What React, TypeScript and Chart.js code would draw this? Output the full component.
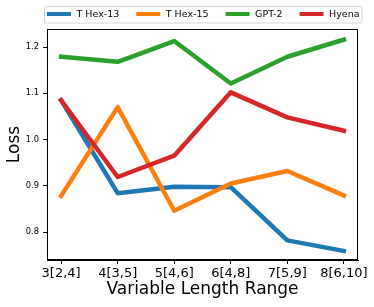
import React, { useEffect, useRef } from "react";
import { Chart, registerables } from "chart.js";

Chart.register(...registerables);

const categories = ["3[2,4]", "4[3,5]", "5[4,6]", "6[4,8]", "7[5,9]", "8[6,10]"];
const tHex13 = [1.085, 0.884, 0.898, 0.897, 0.782, 0.759];
const tHex15 = [0.878, 1.07, 0.846, 0.905, 0.932, 0.879];
const gpt2 = [1.179, 1.168, 1.213, 1.121, 1.179, 1.216];
const hyena = [1.085, 0.919, 0.965, 1.102, 1.048, 1.019];
const yTicks = [0.8, 0.9, 1.0, 1.1, 1.2];

const seriesNames = ["T Hex-13", "T Hex-15", "GPT-2", "Hyena"];
const seriesValues = [tHex13, tHex15, gpt2, hyena];
const seriesColors = ["#1f77b4", "#ff7f0e", "#2ca02c", "#d62728"];

const FONT = '"DejaVu Sans", sans-serif';

const framePlugin = {
  id: "frame",
  afterDraw(chart: any) {
    const { ctx, chartArea } = chart;
    ctx.save();
    ctx.strokeStyle = "#000";
    ctx.lineWidth = 1;
    ctx.strokeRect(
      Math.round(chartArea.left) + 0.5,
      Math.round(chartArea.top) + 0.5,
      Math.round(chartArea.right - chartArea.left) - 1,
      Math.round(chartArea.bottom - chartArea.top) - 1
    );
    ctx.restore();
  },
};

const legendPlugin = {
  id: "boxLegend",
  afterDraw(chart: any) {
    const { ctx, chartArea } = chart;
    ctx.save();
    ctx.font = `9.5px ${FONT}`;
    const swatch = 24;
    const gapText = 5.5;
    const colSpace = 17;
    const padX = 2.5;
    const items = chart.data.datasets.map((d: any) => ({
      label: d.label,
      color: d.borderColor,
      w: ctx.measureText(d.label).width,
    }));
    const total =
      items.reduce((s: number, it: any) => s + swatch + gapText + it.w, 0) +
      colSpace * (items.length - 1) +
      2 * padX;
    const cx = (chartArea.left + chartArea.right) / 2;
    const bx = Math.round(cx - total / 2) + 0.5;
    const by = 6.5;
    const bh = 16.5;
    const r = 2;
    ctx.beginPath();
    ctx.moveTo(bx + r, by);
    ctx.lineTo(bx + total - r, by);
    ctx.quadraticCurveTo(bx + total, by, bx + total, by + r);
    ctx.lineTo(bx + total, by + bh - r);
    ctx.quadraticCurveTo(bx + total, by + bh, bx + total - r, by + bh);
    ctx.lineTo(bx + r, by + bh);
    ctx.quadraticCurveTo(bx, by + bh, bx, by + bh - r);
    ctx.lineTo(bx, by + r);
    ctx.quadraticCurveTo(bx, by, bx + r, by);
    ctx.closePath();
    ctx.fillStyle = "rgba(255,255,255,0.8)";
    ctx.fill();
    ctx.strokeStyle = "#d4d4d4";
    ctx.lineWidth = 1;
    ctx.stroke();

    let x = bx + padX;
    const yMid = 14.5;
    items.forEach((it: any) => {
      ctx.fillStyle = it.color;
      ctx.fillRect(x, yMid - 2.5, swatch, 4);
      ctx.fillStyle = "#000";
      ctx.textBaseline = "middle";
      ctx.textAlign = "left";
      ctx.fillText(it.label, x + swatch + gapText, yMid);
      x += swatch + gapText + it.w + colSpace;
    });
    ctx.restore();
  },
};

export default function App() {
  const canvasRef = useRef<HTMLCanvasElement | null>(null);

  useEffect(() => {
    if (!canvasRef.current) return;
    const datasets = seriesNames.map((name, i) => ({
      label: name,
      data: seriesValues[i].map((v, j) => ({ x: j, y: v })),
      borderColor: seriesColors[i],
      backgroundColor: seriesColors[i],
      borderWidth: 4.5,
      pointRadius: 0,
      tension: 0,
      borderJoinStyle: "round" as const,
      borderCapStyle: "square" as const,
      order: seriesNames.length - 1 - i,
    }));

    const chart = new Chart(canvasRef.current, {
      type: "line",
      data: { datasets },
      options: {
        animation: false,
        responsive: false,
        devicePixelRatio: 1,
        layout: { padding: { top: 29, right: 16, left: 0, bottom: 0 } },
        plugins: {
          legend: { display: false },
          tooltip: { enabled: false },
        },
        scales: {
          x: {
            type: "linear",
            min: -0.25,
            max: 5.25,
            afterBuildTicks: (scale: any) => {
              scale.ticks = categories.map((_, i) => ({ value: i }));
            },
            afterFit: (scale: any) => {
              scale.height = 47;
            },
            ticks: {
              callback: (v: any) => categories[Math.round(Number(v))] ?? "",
              font: { family: FONT, size: 13 },
              color: "#000",
              padding: 2,
              maxRotation: 0,
              autoSkip: false,
            },
            grid: {
              display: true,
              drawOnChartArea: false,
              drawTicks: true,
              tickLength: 4,
              color: "#000",
            },
            border: { display: true, color: "#000" },
            title: {
              display: true,
              text: "Variable Length Range",
              font: { family: FONT, size: 17 },
              color: "#000",
              padding: { top: 0, bottom: 7 },
            },
          },
          y: {
            type: "linear",
            min: 0.7395,
            max: 1.239,
            afterBuildTicks: (scale: any) => {
              scale.ticks = yTicks.map((v) => ({ value: v }));
            },
            afterFit: (scale: any) => {
              scale.width = 47;
            },
            ticks: {
              callback: (v: any) => Number(v).toFixed(1),
              font: { family: FONT, size: 8.3 },
              color: "#000",
              padding: 4,
            },
            grid: {
              display: true,
              drawOnChartArea: false,
              drawTicks: true,
              tickLength: 4,
              color: "#000",
            },
            border: { display: true, color: "#000" },
            title: {
              display: true,
              text: "Loss",
              font: { family: FONT, size: 17 },
              color: "#000",
              padding: { top: 4.5, bottom: 0 },
            },
          },
        },
      },
      plugins: [framePlugin, legendPlugin],
    });
    return () => chart.destroy();
  }, []);

  return (
    <div style={{ position: "fixed", left: 0, top: 0, width: 374, height: 307, background: "#fff" }}>
      <canvas ref={canvasRef} width={374} height={307} />
    </div>
  );
}
